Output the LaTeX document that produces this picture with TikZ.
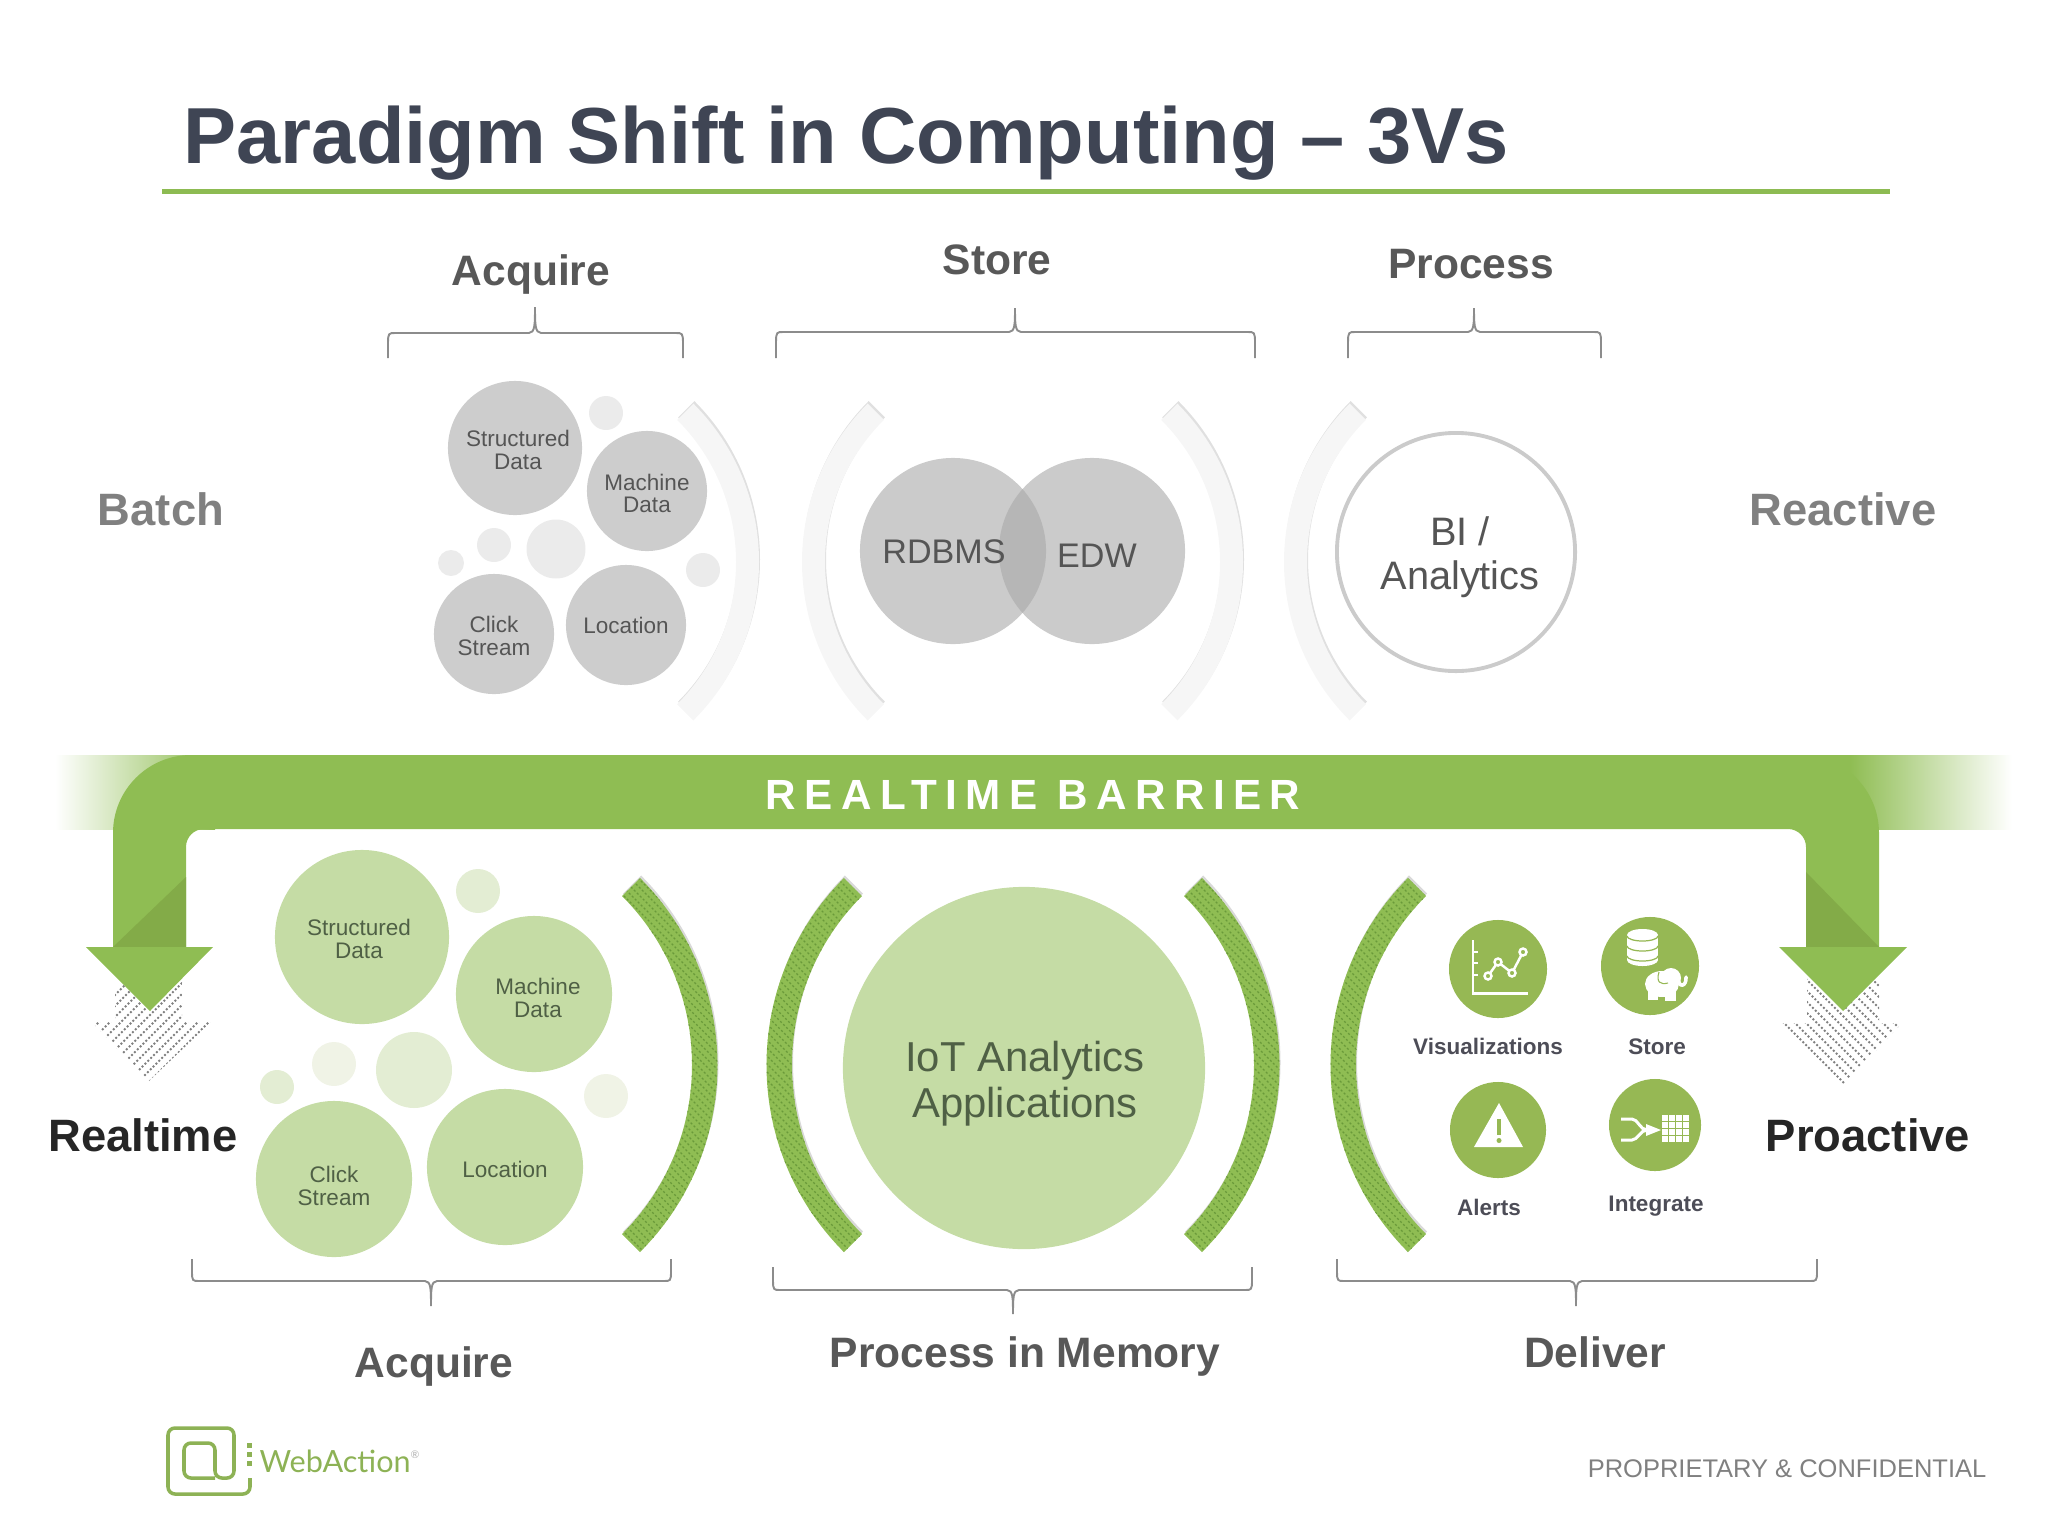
\documentclass[tikz,border=0pt]{standalone}
\usepackage{fontspec}
\setmainfont{Liberation Sans}
\newfontfamily\barfont[LetterSpace=20]{Liberation Sans}
\newfontfamily\logofont{Lato}
\usepackage{tikz}
\usetikzlibrary{shadows}
\definecolor{titleink}{HTML}{3F4554}
\definecolor{ruleleaf}{HTML}{8DBB52}
\definecolor{bandleaf}{HTML}{8FBD53}
\definecolor{foldleaf}{HTML}{83AB48}
\definecolor{stripeleaf}{HTML}{6A9A3A}
\definecolor{bubbleleaf}{HTML}{C5DCA5}
\definecolor{crumbleaf}{HTML}{E3EDD3}
\definecolor{paleleaf}{HTML}{F0F3E6}
\definecolor{iconleaf}{HTML}{96B854}
\definecolor{logoleaf}{HTML}{8DB255}
\definecolor{bubblegray}{HTML}{CDCDCD}
\definecolor{crumbgray}{HTML}{EBEBEB}
\definecolor{ringgray}{HTML}{CBCBCB}
\definecolor{bowgray}{HTML}{F6F6F6}
\definecolor{headink}{HTML}{585858}
\definecolor{sideink}{HTML}{808080}
\definecolor{grayink}{HTML}{555555}
\definecolor{leafink}{HTML}{4F6045}
\definecolor{iconink}{HTML}{4D4D57}
\definecolor{hatchgray}{HTML}{808080}
\definecolor{bracketgray}{HTML}{8C8C8C}
\tikzset{
  header/.style={text=headink, font=\fontsize{12.1}{14}\selectfont\bfseries},
  sidelabel/.style={text=sideink, font=\fontsize{12.9}{15}\selectfont\bfseries},
  darklabel/.style={text=black!85, font=\fontsize{12.9}{15}\selectfont\bfseries},
  bracket/.style={draw=bracketgray, line width=.55pt},
  bubbletext/.style={align=center, font=\fontsize{6.4}{6.5}\selectfont},
  graybubble/.style={circle, inner sep=0pt, fill=bubblegray},
  leafbubble/.style={circle, inner sep=0pt, fill=bubbleleaf},
  iconlabel/.style={text=iconink, font=\fontsize{6.4}{8}\selectfont\bfseries},
  iconball/.style={circle, inner sep=0pt, fill=iconleaf},
  venn/.style={circle, inner sep=0pt, minimum size=1.86cm, fill=black!34, fill opacity=.6},
  hatch/.style={hatchgray, line width=.55pt, dash pattern=on .55pt off .6pt},
  stripe/.style={stripeleaf, line width=.35pt, dash pattern=on .6pt off .6pt}
}
% closed bow: centre x, centre y, inner radius, outer radius, start angle
\newcommand{\bowpath}[5]{({#1+#3*cos(#5)},{#2+#3*sin(#5)}) arc (#5:#5+90:#3) -- ({#1+#4*cos(#5+90)},{#2+#4*sin(#5+90)}) arc (#5+90:#5:#4) -- cycle}

\begin{document}
\begin{tikzpicture}[x=.01cm,y=-.01cm]
        \useasboundingbox (0,0) rectangle (2048,1536);

        % Title and rule
        \node[anchor=base west, inner sep=0pt, text=titleink, font=\fontsize{22.6}{26}\selectfont\bfseries] (title) at (183,163) {Paradigm Shift in Computing -- 3Vs};
        \fill[ruleleaf] (162,188.5) rectangle (1890,193.5);

        % Section heads
        \node[header] (acquireTop) at (531,274) {Acquire};
        \node[header] (storeTop) at (997,260) {Store};
        \node[header] (processTop) at (1471,264) {Process};
        \node[sidelabel] (batch) at (161,509) {Batch};
        \node[sidelabel] (reactive) at (1843,509) {Reactive};

        % Brackets
        \foreach \lx/\mx/\rx/\ey/\by/\ty in {388/535/683/358/333/307, 776/1015/1255/358/332/308, 1348/1474/1601/358/332/308, 192/431/671/1259/1281/1306, 773/1013/1252/1267/1290/1314, 1337/1576/1817/1259/1281/1306}
            \draw[bracket] (\lx,\ey) -- (\lx,{\by+(\ey-\by)/2.5}) .. controls (\lx,\by) and ({\lx+1},\by) .. ({\lx+7},\by) -- ({\mx-6},\by) .. controls (\mx,\by) and (\mx,{\by+(\ty-\by)*.35}) .. (\mx,\ty) .. controls (\mx,{\by+(\ty-\by)*.35}) and (\mx,\by) .. ({\mx+6},\by) -- ({\rx-7},\by) .. controls ({\rx-1},\by) and (\rx,\by) .. (\rx,{\by+(\ey-\by)/2.5}) -- (\rx,\ey);

        % Upper bubbles
        \foreach \x/\y/\r in {606/413/17, 494/545/17, 556/549/29.5, 451/563/13, 703/570/17}
            \fill[crumbgray] (\x,\y) circle (\r);
        \node[graybubble, minimum size=1.34cm] (structuredTop) at (515,448) {};
        \node[graybubble, minimum size=1.20cm] (machineTop) at (647,491) {};
        \node[graybubble, minimum size=1.20cm] (clickTop) at (494,634) {};
        \node[graybubble, minimum size=1.20cm] (locationTop) at (626,625) {};
        \node[bubbletext, text=grayink] (structuredTopText) at ([shift={(3,2)}]structuredTop.center) {Structured\\Data};
        \node[bubbletext, text=grayink] (machineTopText) at ([shift={(0,2.5)}]machineTop.center) {Machine\\Data};
        \node[bubbletext, text=grayink] (clickTopText) at ([shift={(0,2)}]clickTop.center) {Click\\Stream};
        \node[bubbletext, text=grayink] (locationTopText) at (locationTop.center) {Location};

        % Upper bows
        \foreach \cx/\a in {535/-45, 1026/135, 1019/-45, 1508/135}
            \fill[bowgray, drop shadow={shadow xshift=.01cm, shadow yshift=.025cm, opacity=.12, fill=black}] \bowpath{\cx}{562}{201}{224}{\a};

        % Store and process circles
        \node[venn] (rdbms) at (953,551) {};
        \node[venn] (edw) at (1092,551) {};
        \node[text=grayink, font=\fontsize{9.7}{11}\selectfont] (rdbmsText) at (944,552) {RDBMS};
        \node[text=grayink, font=\fontsize{9.7}{11}\selectfont] (edwText) at (1097,556) {EDW};
        \node[circle, inner sep=0pt, minimum size=2.38cm, draw=ringgray, line width=1.1pt] (bi) at (1456,552) {};
        \node[text=grayink, align=center, font=\fontsize{11.3}{12.4}\selectfont] (biText) at ([shift={(4,5)}]bi.center) {BI /\\Analytics};

        % Band, fading out at both ends
        \shade[left color=white, right color=bandleaf] (55,755) rectangle (215,829);
        \fill[bandleaf] (1780,755) rectangle (1850,829);
        \shade[left color=bandleaf, right color=white] (1850,755) rectangle (2012,829);
        \fill[bandleaf] (113,947) [rounded corners=.78cm] -- (113,755) -- (1879,755) [sharp corners] -- (1879,947) -- (1806,947) [rounded corners=.18cm] -- (1806,829) -- (186,829) [sharp corners] -- (186,947) -- cycle;
        \fill[foldleaf] (113,947) -- (186,877) -- (186,947) -- cycle;
        \fill[foldleaf] (1879,947) -- (1806,872) -- (1806,947) -- cycle;
        \node[text=white, font=\barfont\fontsize{12}{14}\selectfont\bfseries] (barrier) at (1033,795) {REALTIME BARRIER};

        % Dotted shadows of the arrows
        \begin{scope}
            \clip (115,960) -- (182,960) -- (182,1022) -- (211,1022) -- (148,1082) -- (92,1022) -- (115,1022) -- cycle;
            \foreach \k in {0,11,...,132}
                \draw[hatch] ({20+\k},1090) -- ++(140,-140);
        \end{scope}
        \begin{scope}
            \clip (1807,960) -- (1879,960) -- (1879,1023) -- (1902,1023) -- (1844,1085) -- (1782,1023) -- (1807,1023) -- cycle;
            \foreach \k in {0,11,...,176}
                \draw[hatch] ({1700+\k},950) -- ++(140,140);
        \end{scope}
        \fill[bandleaf] (86,947) -- (213,947) -- (150,1011) -- cycle;
        \fill[bandleaf] (1779,947) -- (1907,947) -- (1843,1011) -- cycle;

        \node[darklabel] (realtime) at (143,1135) {Realtime};
        \node[darklabel] (proactive) at (1868,1135) {Proactive};

        % Lower bubbles
        \foreach \x/\y/\r/\c in {478/891/22/crumbleaf, 334/1064/22/paleleaf, 414/1070/38/crumbleaf, 277/1087/17/crumbleaf, 606/1096/22/paleleaf}
            \fill[\c] (\x,\y) circle (\r);
        \node[leafbubble, minimum size=1.74cm] (structuredLow) at (362,937) {};
        \node[leafbubble, minimum size=1.56cm] (machineLow) at (534,994) {};
        \node[leafbubble, minimum size=1.56cm] (clickLow) at (334,1179) {};
        \node[leafbubble, minimum size=1.56cm] (locationLow) at (505,1167) {};
        \node[circle, inner sep=0pt, minimum size=3.62cm, fill=bubbleleaf] (iot) at (1024,1068) {};
        \node[bubbletext, text=leafink] (structuredLowText) at ([shift={(-3,2)}]structuredLow.center) {Structured\\Data};
        \node[bubbletext, text=leafink] (machineLowText) at ([shift={(4,4)}]machineLow.center) {Machine\\Data};
        \node[bubbletext, text=leafink] (clickLowText) at ([shift={(0,7)}]clickLow.center) {Click\\Stream};
        \node[bubbletext, text=leafink] (locationLowText) at ([shift={(0,2)}]locationLow.center) {Location};
        \node[text=leafink, align=center, font=\fontsize{11.9}{13}\selectfont] (iotText) at ([shift={(1,16)}]iot.center) {IoT Analytics\\Applications};

        % Lower bows
        \foreach \cx/\a/\xa/\xb in {453/-45/623/718, 1031/135/766/863, 1015/-45/1185/1280, 1595/135/1330/1425} {
            \fill[bandleaf, drop shadow={shadow xshift=.01cm, shadow yshift=.025cm, opacity=.15, fill=black}] \bowpath{\cx}{1065}{239}{264.5}{\a};
            \begin{scope}
                \clip \bowpath{\cx}{1065}{239}{264.5}{\a};
                \foreach \k in {0,8,...,490}
                    \draw[stripe] ({\xa-380+\k},875) -- ++(380,380);
            \end{scope}
        }

        % Deliver icons
        \node[iconball, minimum size=.98cm] (vizBall) at (1498,969) {};
        \node[iconball, minimum size=.98cm] (storeBall) at (1650,966) {};
        \node[iconball, minimum size=.96cm] (alertBall) at (1498,1130) {};
        \node[iconball, minimum size=.92cm] (integrateBall) at (1655,1125) {};

        % Chart icon
        \draw[white, line width=.8pt] (1473,940) -- (1473,993.5) -- (1528,993.5);
        \foreach \y in {952,963,975}
            \draw[white, line width=.8pt] (1473,\y) -- (1478,\y);
        \draw[white, line width=.7pt] (1488,976) -- (1498,962) -- (1512,973) -- (1523,952);
        \foreach \x/\y in {1488/976, 1498/962, 1512/973, 1523/952}
            \draw[white, fill=iconleaf, line width=.7pt] (\x,\y) circle (3.5);

        % Store icon
        \fill[white] (1627,935) rectangle (1658,960);
        \fill[white] (1642.5,935) ellipse (15.5 and 6);
        \fill[white] (1642.5,960) ellipse (15.5 and 6);
        \foreach \y in {936,946,956}
            \draw[iconleaf, line width=.35pt] (1627,\y) arc (180:0:15.5 and 5);
        \fill[white] (1662,984) ellipse (17 and 13);
        \fill[white] (1671,978) circle (10);
        \fill[white] (1648,990) rectangle (1658,1000);
        \fill[white] (1665,990) rectangle (1676,1001);
        \draw[white, line width=1pt, line cap=round] (1678,976) .. controls (1678,990) and (1687,986) .. (1686,977);
        \draw[iconleaf, line width=.3pt] (1659,972) .. controls (1656,982) and (1660,985) .. (1668,983);

        % Alert icon
        \fill[white] (1499,1103) -- (1523,1147) -- (1474,1147) -- cycle;
        \fill[iconleaf] (1497,1119) rectangle (1501,1135);
        \fill[iconleaf] (1499,1140.5) circle (2.5);

        % Integrate icon
        \draw[white, line width=.85pt] (1621,1119) -- (1632,1119) .. controls (1638,1119) and (1640,1130) .. (1647,1130);
        \draw[white, line width=.85pt] (1621,1140) -- (1632,1140) .. controls (1638,1140) and (1640,1130) .. (1647,1130);
        \fill[white] (1646,1124) -- (1661,1130) -- (1646,1136) -- cycle;
        \foreach \i in {0,1,2,3}
            \foreach \j in {0,1,2,3}
            \fill[white] ({1662+7.1*\i},{1115+7.1*\j}) rectangle ++(6.1,6.1);

        \node[iconlabel] (vizLabel) at (1488,1046) {Visualizations};
        \node[iconlabel] (storeLabel) at (1657,1047) {Store};
        \node[iconlabel] (alertLabel) at (1489,1207) {Alerts};
        \node[iconlabel] (integrateLabel) at (1656,1206) {Integrate};

        % Bottom heads
        \node[header] (acquireLow) at (434,1366) {Acquire};
        \node[header] (memory) at (1025,1356) {Process in Memory};
        \node[header] (deliver) at (1595,1352) {Deliver};

        % Logo
        \draw[logoleaf, line width=1pt, rounded corners=.07cm] (250,1478) -- (250,1494) -- (168,1494) -- (168,1428) -- (234,1428) -- (234,1478) -- (215,1478) -- (215,1443) -- (184,1443) -- (184,1478) -- (215,1478);
        \foreach \y in {1445,1454,1463}
            \fill[logoleaf] (246.5,{\y-2.5}) rectangle (251.5,{\y+2.5});
        \node[anchor=base west, inner sep=0pt, text=logoleaf, font=\logofont\fontsize{8.7}{10}\selectfont] (logoText) at (259,1472) {WebAction\raisebox{.9ex}{\textcolor{gray!60}{\fontsize{3}{3}\selectfont ®}}};

        \node[anchor=base east, inner sep=0pt, text=gray, font=\fontsize{7.25}{9}\selectfont] (footer) at (1987,1477) {PROPRIETARY \& CONFIDENTIAL};
    \end{tikzpicture}
\end{document}
